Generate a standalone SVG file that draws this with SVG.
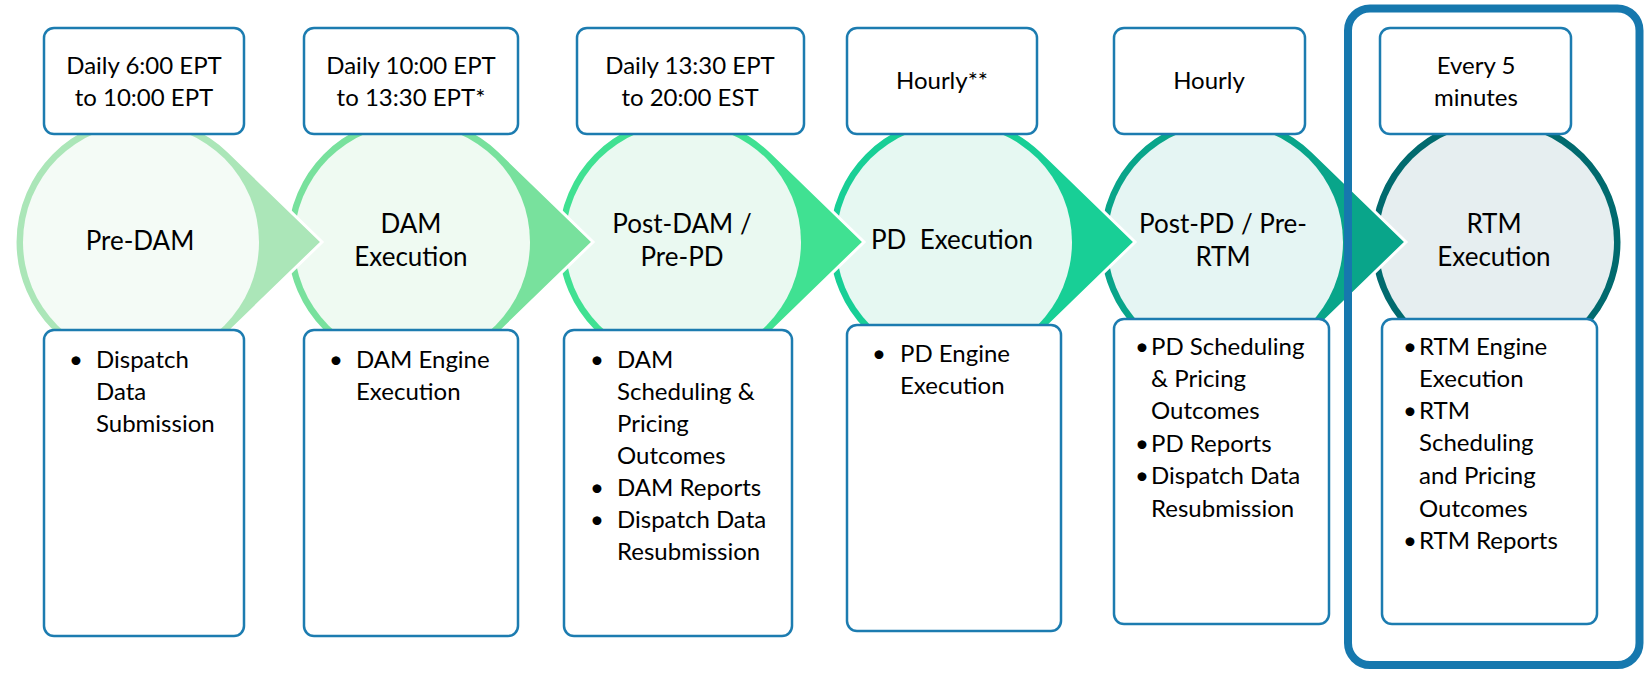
<svg xmlns="http://www.w3.org/2000/svg" width="1647" height="676" viewBox="0 0 1647 676">
<style>
.lbl{font-family:Lato,"Liberation Sans",sans-serif;font-size:26px;fill:#000;text-anchor:middle}
.t{font-family:Lato,"Liberation Sans",sans-serif;font-size:24px;fill:#000}
.tc{text-anchor:middle}
.box{fill:#fff;stroke:#1C7CB0;stroke-width:2.5}
.drop{stroke:#fff;stroke-width:3}
</style>
<defs>
<path id="drop" d="M87.7,-90.5 L181,0 L87.7,90.5 A126,126 0 1 1 87.7,-90.5 Z"/>
</defs>
<rect width="1647" height="676" fill="#fff"/>

<g id="stage6">
<circle cx="1496" cy="242" r="126" fill="#016A6E" stroke="#fff" stroke-width="3"/>
<circle cx="1496" cy="242" r="118" fill="#E6EEF0"/>
<text class="lbl" x="1494" y="233">RTM</text>
<text class="lbl" x="1494" y="266">Execution</text>
<rect class="box" x="1380" y="28" width="191" height="106" rx="10"/>
<text class="t tc" x="1476" y="74">Every 5</text>
<text class="t tc" x="1476" y="106">minutes</text>
<rect class="box" x="1382" y="319" width="215" height="305" rx="10"/>
<text class="t" x="1403" y="355">•</text><text class="t" x="1419" y="355">RTM Engine</text>
<text class="t" x="1419" y="387">Execution</text>
<text class="t" x="1403" y="419">•</text><text class="t" x="1419" y="419">RTM</text>
<text class="t" x="1419" y="451">Scheduling</text>
<text class="t" x="1419" y="484">and Pricing</text>
<text class="t" x="1419" y="517">Outcomes</text>
<text class="t" x="1403" y="549">•</text><text class="t" x="1419" y="549">RTM Reports</text>
</g>

<g id="stage5">
<use href="#drop" class="drop" transform="translate(1225,242)" fill="#09A58A"/>
<circle cx="1225" cy="242" r="118" fill="#E5F5F3"/>
<text class="lbl" x="1223" y="233">Post-PD / Pre-</text>
<text class="lbl" x="1223" y="266">RTM</text>
<rect class="box" x="1114" y="28" width="191" height="106" rx="10"/>
<text class="t tc" x="1209" y="89">Hourly</text>
<rect class="box" x="1114" y="319" width="215" height="305" rx="10"/>
<text class="t" x="1135" y="355">•</text><text class="t" x="1151" y="355">PD Scheduling</text>
<text class="t" x="1151" y="387">&amp; Pricing</text>
<text class="t" x="1151" y="419">Outcomes</text>
<text class="t" x="1135" y="452">•</text><text class="t" x="1151" y="452">PD Reports</text>
<text class="t" x="1135" y="484">•</text><text class="t" x="1151" y="484">Dispatch Data</text>
<text class="t" x="1151" y="517">Resubmission</text>
</g>

<g id="stage4">
<use href="#drop" class="drop" transform="translate(954,242)" fill="#18CF96"/>
<circle cx="954" cy="242" r="118" fill="#E6F8F2"/>
<text class="lbl" x="952" y="249" xml:space="preserve">PD  Execution</text>
<rect class="box" x="847" y="28" width="190" height="106" rx="10"/>
<text class="t tc" x="942" y="89">Hourly**</text>
<rect class="box" x="847" y="325" width="214" height="306" rx="10"/>
<text class="t" x="872" y="362">•</text><text class="t" x="900" y="362">PD Engine</text>
<text class="t" x="900" y="394">Execution</text>
</g>

<g id="stage3">
<use href="#drop" class="drop" transform="translate(683,242)" fill="#40E192"/>
<circle cx="683" cy="242" r="118" fill="#EAF9F1"/>
<text class="lbl" x="682" y="233">Post-DAM /</text>
<text class="lbl" x="682" y="266">Pre-PD</text>
<rect class="box" x="577" y="28" width="227" height="106" rx="10"/>
<text class="t tc" x="690" y="74">Daily 13:30 EPT</text>
<text class="t tc" x="690" y="106">to 20:00 EST</text>
<rect class="box" x="564" y="330" width="228" height="306" rx="10"/>
<text class="t" x="590" y="368">•</text><text class="t" x="617" y="368">DAM</text>
<text class="t" x="617" y="400">Scheduling &amp;</text>
<text class="t" x="617" y="432">Pricing</text>
<text class="t" x="617" y="464">Outcomes</text>
<text class="t" x="590" y="496">•</text><text class="t" x="617" y="496">DAM Reports</text>
<text class="t" x="590" y="528">•</text><text class="t" x="617" y="528">Dispatch Data</text>
<text class="t" x="617" y="560">Resubmission</text>
</g>

<g id="stage2">
<use href="#drop" class="drop" transform="translate(412,242)" fill="#78E19D"/>
<circle cx="412" cy="242" r="118" fill="#EFFAF2"/>
<text class="lbl" x="411" y="233">DAM</text>
<text class="lbl" x="411" y="266">Execution</text>
<rect class="box" x="304" y="28" width="214" height="106" rx="10"/>
<text class="t tc" x="411" y="74">Daily 10:00 EPT</text>
<text class="t tc" x="411" y="106">to 13:30 EPT*</text>
<rect class="box" x="304" y="330" width="214" height="306" rx="10"/>
<text class="t" x="329" y="368">•</text><text class="t" x="356" y="368">DAM Engine</text>
<text class="t" x="356" y="400">Execution</text>
</g>

<g id="stage1">
<use href="#drop" class="drop" transform="translate(141,242)" fill="#ABE6B8"/>
<circle cx="141" cy="242" r="118" fill="#F4FBF6"/>
<text class="lbl" x="140" y="250">Pre-DAM</text>
<rect class="box" x="44" y="28" width="200" height="106" rx="10"/>
<text class="t tc" x="144" y="74">Daily 6:00 EPT</text>
<text class="t tc" x="144" y="106">to 10:00 EPT</text>
<rect class="box" x="44" y="330" width="200" height="306" rx="10"/>
<text class="t" x="69" y="368">•</text><text class="t" x="96" y="368">Dispatch</text>
<text class="t" x="96" y="400">Data</text>
<text class="t" x="96" y="432">Submission</text>
</g>

<g id="rtm-highlight">
<rect x="1348" y="8.5" width="291.5" height="656.5" rx="22" fill="none" stroke="#1678AE" stroke-width="8"/>
</g>
</svg>
